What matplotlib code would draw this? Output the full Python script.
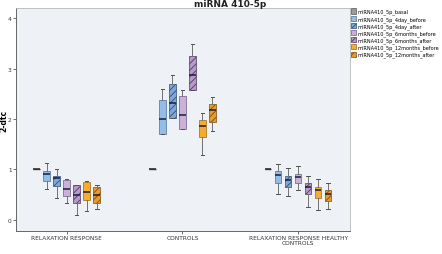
import matplotlib

matplotlib.use("Agg")

import matplotlib.pyplot as plt
import numpy as np
from matplotlib.patches import Patch

# Groups on the x axis
GROUPS = ["RELAXATION RESPONSE", "CONTROLS", "RELAXATION RESPONSE HEALTHY\nCONTROLS"]

SERIES = [
    "miRNA410_5p_basal",
    "miRNA410_5p_4day_before",
    "miRNA410_5p_4day_after",
    "miRNA410_5p_6months_before",
    "miRNA410_5p_6months_after",
    "miRNA410_5p_12months_before",
    "miRNA410_5p_12months_after",
]

# Box statistics per series, one value per group
WHISKER_LOW = [
    [1.00, 1.00, 1.00],
    [0.61, 1.70, 0.51],
    [0.43, 2.02, 0.48],
    [0.34, 1.80, 0.59],
    [0.10, 2.57, 0.26],
    [0.17, 1.29, 0.20],
    [0.22, 1.76, 0.22],
]
Q1 = [
    [1.00, 1.00, 1.00],
    [0.77, 1.71, 0.74],
    [0.67, 2.02, 0.66],
    [0.47, 1.80, 0.73],
    [0.34, 2.57, 0.51],
    [0.40, 1.64, 0.44],
    [0.34, 1.95, 0.38],
]
MEDIAN = [
    [1.00, 1.00, 1.00],
    [0.92, 1.99, 0.89],
    [0.84, 2.31, 0.80],
    [0.61, 2.07, 0.85],
    [0.49, 2.87, 0.66],
    [0.55, 1.86, 0.59],
    [0.49, 2.18, 0.52],
]
Q3 = [
    [1.00, 1.00, 1.00],
    [0.97, 2.38, 0.96],
    [0.88, 2.69, 0.88],
    [0.80, 2.45, 0.92],
    [0.69, 3.25, 0.73],
    [0.75, 1.98, 0.66],
    [0.65, 2.29, 0.59],
]
WHISKER_HIGH = [
    [1.00, 1.00, 1.00],
    [1.12, 2.59, 1.10],
    [1.00, 2.87, 1.02],
    [0.81, 2.57, 1.06],
    [0.70, 3.48, 0.87],
    [0.77, 2.11, 0.81],
    [0.70, 2.43, 0.73],
]

FILL = ["#9a9a9a", "#93bde6", "#7ea7d6", "#c9b1da", "#b59ac9", "#f6ac2c", "#e89a2a"]
EDGE = ["#555555", "#4a6f96", "#2f4f78", "#6f5a85", "#4e3a63", "#9a6a17", "#7a4f10"]
HATCH = [None, None, "/////", None, "/////", None, "/////"]

plt.rcParams["hatch.linewidth"] = 0.6

fig = plt.figure(figsize=(4.42, 2.55), dpi=100)
ax = fig.add_axes([0.036, 0.090, 0.756, 0.875])
ax.set_facecolor("#eef1f6")

step = 0.0866
width = 0.058
for i, name in enumerate(SERIES):
    stats = []
    for g in range(len(GROUPS)):
        stats.append({
            "whislo": WHISKER_LOW[i][g],
            "q1": Q1[i][g],
            "med": MEDIAN[i][g],
            "q3": Q3[i][g],
            "whishi": WHISKER_HIGH[i][g],
            "fliers": [],
        })
    pos = np.arange(len(GROUPS)) + (i - 3) * step
    if i == 0:
        # basal is normalised to 1: only a flat line is drawn
        ax.bxp(stats, positions=pos, widths=width, showcaps=False,
               patch_artist=True, manage_ticks=False,
               boxprops=dict(facecolor=FILL[i], edgecolor="#444444", linewidth=1.0),
               medianprops=dict(color="#333333", linewidth=1.2),
               whiskerprops=dict(linewidth=0))
        continue
    res = ax.bxp(stats, positions=pos, widths=width, patch_artist=True,
                 manage_ticks=False,
                 boxprops=dict(facecolor=FILL[i], edgecolor=EDGE[i], linewidth=0.5),
                 medianprops=dict(color="#1c1c3a", linewidth=1.1),
                 whiskerprops=dict(color="#707070", linewidth=0.7),
                 capprops=dict(color="#505050", linewidth=0.7),
                 capwidths=width * 0.5)
    for box in res["boxes"]:
        if HATCH[i]:
            box.set_hatch(HATCH[i])

ax.set_xlim(-0.44, 2.45)
ax.set_ylim(-0.22, 4.2)
ax.set_xticks(range(len(GROUPS)))
ax.set_xticklabels(GROUPS, fontsize=4.2, color="#333333", linespacing=0.9)
ax.set_yticks([0, 1, 2, 3, 4])
ax.tick_params(axis="both", labelsize=4.2, length=2, width=0.6, colors="#555555",
               labelcolor="#333333", pad=1)
for side in ["top", "right"]:
    ax.spines[side].set_color("#b8b8b8")
    ax.spines[side].set_linewidth(0.6)
for side in ["left", "bottom"]:
    ax.spines[side].set_color("#666666")
    ax.spines[side].set_linewidth(0.7)
ax.set_ylabel("2-dtc", fontsize=5.5, fontweight="bold")
ax.yaxis.set_label_coords(-0.022, 0.5)

# legend patches drawn with matching styles
handles = [Patch(facecolor=FILL[i], edgecolor=EDGE[i], hatch=HATCH[i], linewidth=0.5, label=SERIES[i])
           for i in range(len(SERIES))]
fig.legend(handles=handles, loc="upper left", bbox_to_anchor=(0.792, 0.965),
           frameon=False, fontsize=3.6, handlelength=1.1, handleheight=1.2,
           handletextpad=0.3, labelspacing=0.25, borderaxespad=0, borderpad=0.1)

fig.text(0.52, 0.999, "miRNA 410-5p", ha="center", va="top", fontsize=6.5,
         fontweight="bold", color="#222222")

fig.savefig("out.png", dpi=100)
